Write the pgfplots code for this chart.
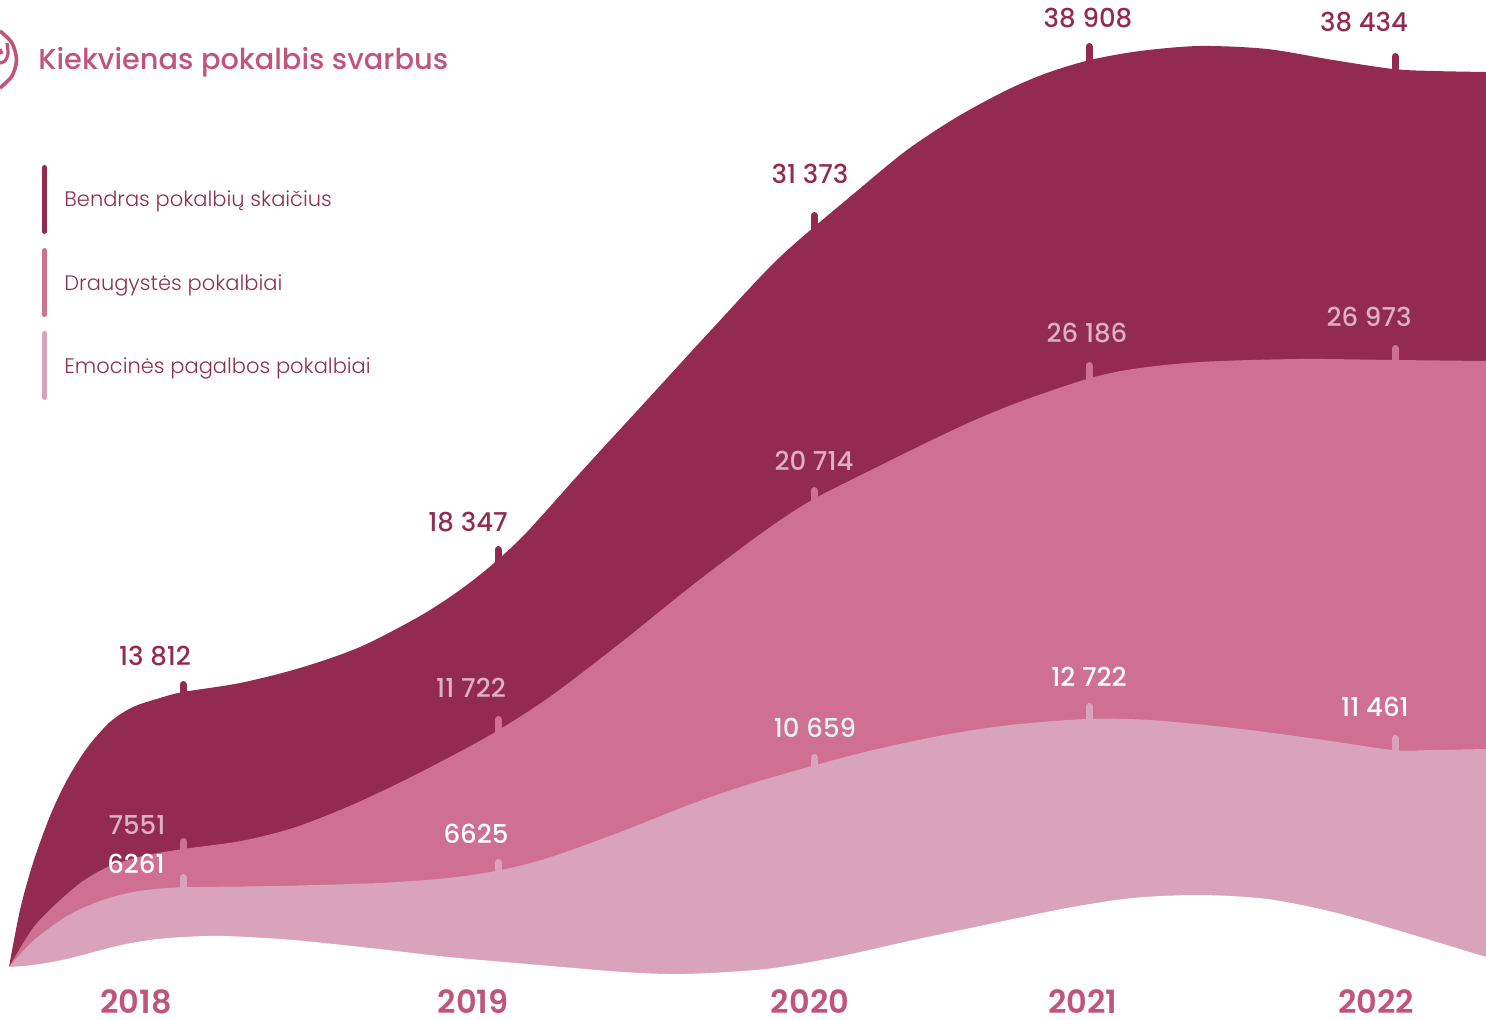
\documentclass[border=0pt]{standalone}
\usepackage{pgfplots}
\pgfplotsset{compat=1.18}
\usepackage{fontspec}
\setmainfont{Poppins}
\newfontfamily\lightfont{Poppins Light}
\newfontfamily\medfont{Poppins Medium}
\newfontfamily\semifont{Poppins SemiBold}
\definecolor{C_Dark}{HTML}{932B51}
\definecolor{C_Mid}{HTML}{CF7093}
\definecolor{C_Light}{HTML}{D9A4BB}
\definecolor{C_Title}{HTML}{C05578}
\definecolor{C_Leg}{HTML}{8E2F52}
\definecolor{C_Pale}{HTML}{DDB0C4}
\definecolor{C_Ice}{HTML}{E6F0F4}
\pgfplotsset{
  lab/.style={only marks, mark=none, point meta=explicit symbolic, nodes near coords,
    nodes near coords style={anchor=base, inner sep=0pt, text=#1, font=\medfont\fontsize{13}{15}\selectfont}},
  tick/.style={draw=#1, line width=3.5pt, line cap=round, mark=none, unbounded coords=jump},
}
\begin{document}
\begin{tikzpicture}
\begin{axis}[
    width=743pt, height=509.5pt, scale only axis,
    xmin=0, xmax=1486, ymin=0, ymax=1019,
    hide axis,
]
% Bendras pokalbiu skaicius
\addplot[fill=C_Dark, draw=none, smooth] coordinates {
  (9,53) (20,110) (33,157) (50,204) (67,240) (87,272) (110,298) (133,313) (160,322) (183,328)
  (240,337) (300,352) (360,373) (420,404) (460,430) (493,456) (527,488) (580,547) (647,620)
  (713,692) (780,763) (857,829) (907,870) (957,903) (1007,930) (1047,947) (1090,960) (1140,969)
  (1200,974) (1267,971) (1333,960) (1393,951) (1433,949) (1486,948)
} \closedcycle;
% Draugystes pokalbiai
\addplot[fill=C_Mid, draw=none, smooth] coordinates {
  (9,53) (33,92) (57,117) (83,139) (110,154) (143,164) (183,171) (241,179) (293,192) (345,212)
  (397,236) (448,262) (497,289) (551,324) (623,379) (694,436) (766,490) (812,520) (873,551)
  (930,579) (975,600) (1022,619) (1087,641) (1133,651) (1200,658) (1300,661) (1393,660) (1486,659)
} \closedcycle;
% Emocines pagalbos pokalbiai
\addplot[fill=C_Light, draw=none, smooth] coordinates {
  (9,53) (33,79) (67,104) (100,119) (133,128) (167,132) (200,133) (276,134) (379,137) (448,142)
  (501,150) (551,163) (623,189) (694,217) (750,236) (812,254) (873,270) (944,285) (1010,295)
  (1087,301) (1150,300) (1233,292) (1317,281) (1393,270) (1433,270) (1486,271)
} \closedcycle;
% apatine balta riba
\addplot[fill=white, draw=none, smooth] coordinates {
  (9,53) (33,55) (67,61) (117,74) (150,80) (183,83) (224,84) (293,80) (379,71) (448,63) (551,54)
  (623,48) (684,46) (766,51) (837,63) (909,79) (980,94) (1067,112) (1133,122) (1200,125) (1267,121)
  (1333,108) (1400,89) (1486,63)
} \closedcycle;

% bruksneliai virs kreiviu
\addplot[tick=C_Dark] coordinates {(183,326)(183,335.5)(183,nan)(498,458)(498,470.5)(498,nan)
  (814,790)(814,804.5)(814,nan)(1089,957)(1089,973.5)(1089,nan)(1395,949)(1395,963.5)};
\addplot[tick=C_Mid] coordinates {(183,168)(183,178.5)(183,nan)(498,286)(498,300.5)(498,nan)
  (814,517)(814,529.5)(814,nan)(1089,639)(1089,654.5)(1089,nan)(1395,658)(1395,671.5)};
\addplot[tick=C_Light] coordinates {(183,131)(183,142.5)(183,nan)(498,147)(498,157.5)(498,nan)
  (814,252)(814,262.5)(814,nan)(1089,299)(1089,313.5)(1089,nan)(1395,268)(1395,281.5)};

% reiksmes
\addplot[lab=C_Dark] coordinates {(155,355)[13 812] (468,489)[18 347] (810,836)[31 373]
  (1088,992)[38 908] (1364,988)[38 434]};
\addplot[lab=C_Pale] coordinates {(137,186)[7551] (471,323)[11 722] (814,550)[20 714]
  (1087,678)[26 186] (1369,694)[26 973]};
\addplot[lab=white] coordinates {(136,147)[6261] (476,177)[6625] (1089,334)[12 722] (1375,304)[11 461]};
\addplot[lab=C_Ice] coordinates {(815,283)[10 659]};

% metai
\addplot[only marks, mark=none, point meta=explicit symbolic, nodes near coords,
  nodes near coords style={anchor=base, inner sep=0pt, text=C_Title, font=\semifont\fontsize{16}{18}\selectfont}]
  coordinates {(136,7)[2018] (473,7)[2019] (810,7)[2020] (1083,7)[2021] (1376,7)[2022]};

% legenda
\addplot[tick=C_Dark, line width=2.5pt] coordinates {(44.5,852.5)(44.5,788.5)};
\addplot[tick=C_Mid, line width=2.5pt] coordinates {(44.5,769.5)(44.5,705.5)};
\addplot[tick=C_Light, line width=2.5pt] coordinates {(44.5,686.5)(44.5,622.5)};
\node[anchor=base west, inner sep=0pt, text=C_Leg, font=\lightfont\fontsize{10.5}{12}\selectfont] at (axis cs:64,813) {Bendras pokalbių skaičius};
\node[anchor=base west, inner sep=0pt, text=C_Leg, font=\lightfont\fontsize{10.5}{12}\selectfont] at (axis cs:64,730) {Draugystės pokalbiai};
\node[anchor=base west, inner sep=0pt, text=C_Leg, font=\lightfont\fontsize{10.5}{12}\selectfont] at (axis cs:64,647) {Emocinės pagalbos pokalbiai};

% pavadinimas ir ikona
\node[anchor=base west, inner sep=0pt, text=C_Title, font=\medfont\fontsize{14.4}{16}\selectfont] at (axis cs:38,950) {Kiekvienas pokalbis svarbus};
\addplot[draw=C_Title, line width=1.8pt, smooth] coordinates {(0,989)(12,977)(16.5,960)(12,944)(0,932)};
\addplot[draw=C_Title, line width=1.6pt, smooth] coordinates {(7,977)(8,966)(5,959)(0,957)};
\addplot[draw=C_Title, line width=1.6pt, smooth] coordinates {(0,971)(2,966)};

% apkarpoma 1 vienetu, kad neliktu krastines linijos
\coordinate (sw) at (axis cs:0,1);
\coordinate (ne) at (axis cs:1486,1020);
\end{axis}
\pgfresetboundingbox
\path[use as bounding box] (sw) rectangle (ne);
\end{tikzpicture}
\end{document}
